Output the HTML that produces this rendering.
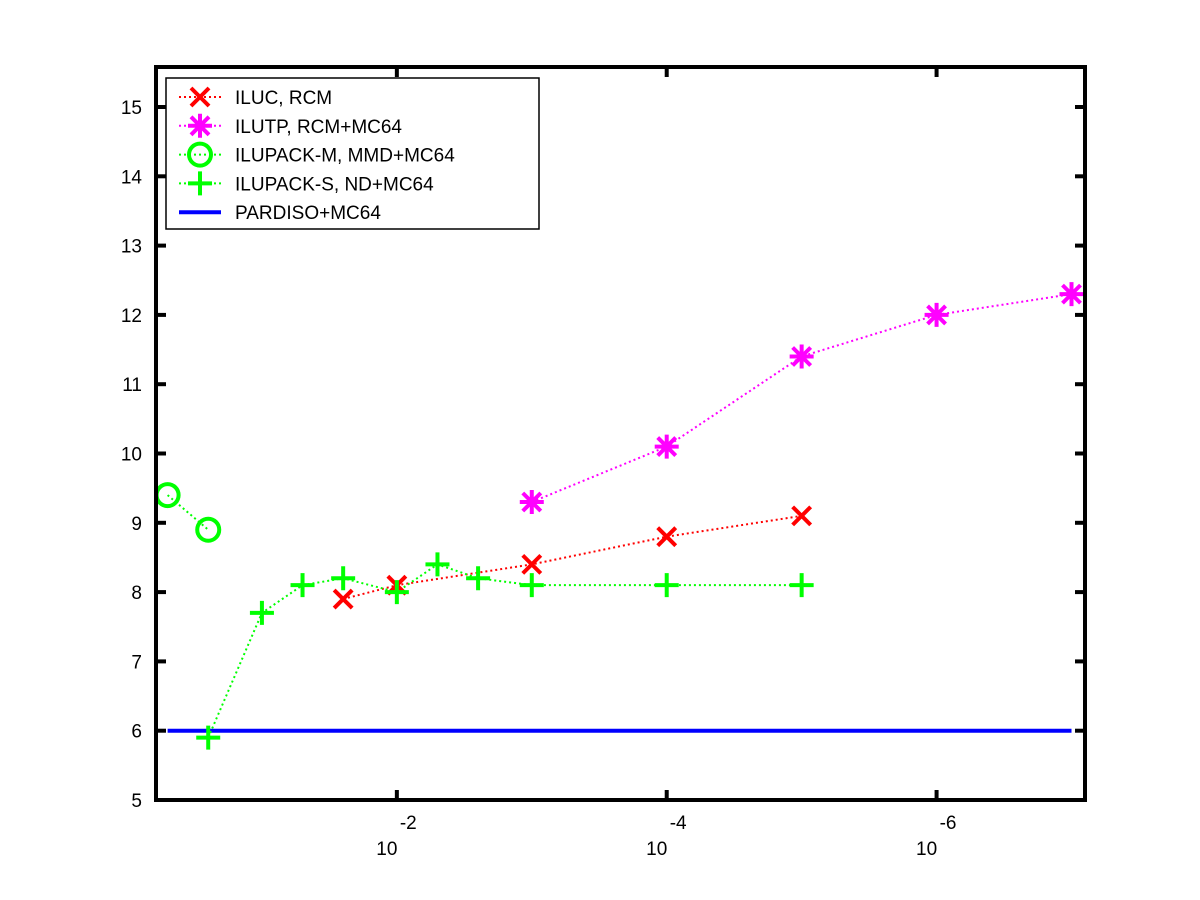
<!DOCTYPE html>
<html><head><meta charset="utf-8"><style>
body{margin:0;background:#fff;}
svg{display:block;font-family:"Liberation Sans",sans-serif;}
</style></head><body>
<svg id="chart" width="1200" height="900" viewBox="0 0 1200 900">
<rect x="0" y="0" width="1200" height="900" fill="#fff"/>
<g id="grid"></g>
<g id="series"></g>
<g id="axes"></g>
<g id="legend"></g>
</svg>
<script>
const NS='http://www.w3.org/2000/svg';
const ilucX=[0.025,0.01,0.001,1e-4,1e-5];
const ilucY=[7.9,8.1,8.4,8.8,9.1];
const ilutpX=[0.001,1e-4,1e-6,1e-7];
const ilutpY=[9.3,10.1,12.0,12.3];
const ilutpX2=[0.001,1e-4,1e-5,1e-6,1e-7];
const ilutpY2=[9.3,10.1,11.4,12.0,12.3];
const ilupMX=[0.5,0.25];
const ilupMY=[9.4,8.9];
const ilupSX=[0.25,0.1,0.05,0.025,0.01,0.005,0.0025,0.001,1e-4,1e-5];
const ilupSY=[5.9,7.7,8.1,8.2,8.0,8.4,8.2,8.1,8.1,8.1];
const pardisoX=[0.5,1e-7];
const pardisoY=[6,6];
const yTicks=[5,6,7,8,9,10,11,12,13,14,15];
const xTickExps=[-2,-4,-6];

const L=156,R=1085,T=67,B=800;
const eL=-0.215,eR=-7.1;
function sx(v){const e=Math.log10(v);return L+(e-eL)/(eR-eL)*(R-L);}
const y0=5,yPx=69.3;
function sy(v){return B-(v-y0)*yPx;}
function el(tag,attrs,parent){const e=document.createElementNS(NS,tag);for(const k in attrs)e.setAttribute(k,attrs[k]);parent.appendChild(e);return e;}
const axes=document.getElementById('axes'),series=document.getElementById('series'),legend=document.getElementById('legend');

// axes box
const box=el('rect',{x:L,y:T,width:R-L,height:B-T,fill:'none',stroke:'#000','stroke-width':4},axes);


yTicks.forEach(v=>{
  const y=sy(v);
  const t1=el('line',{x1:L,x2:L+10,y1:y,y2:y,stroke:'#000','stroke-width':4},axes);
  
  
  el('line',{x1:R-10,x2:R,y1:y,y2:y,stroke:'#000','stroke-width':4},axes);
  const tx=el('text',{x:142,y:y+7,'font-size':19,'text-anchor':'end'},axes);
  tx.textContent=v;
  
  
});
xTickExps.forEach(e=>{
  const x=sx(Math.pow(10,e));
  const t1=el('line',{x1:x,x2:x,y1:B-10,y2:B,stroke:'#000','stroke-width':4},axes);
  
  
  el('line',{x1:x,x2:x,y1:T,y2:T+10,stroke:'#000','stroke-width':4},axes);
  const g=el('text',{x:x-10,y:855,'font-size':19,'text-anchor':'middle'},axes);
  g.textContent='10';
  
  
  const s=el('text',{x:x+3,y:829,'font-size':19},axes);
  s.textContent=String(e).replace('-','-');
  
  
});

function line(xs,ys,color,name,dashed){
  const pts=xs.map((x,i)=>sx(x)+','+sy(ys[i])).join(' ');
  const p=el('polyline',{points:pts,fill:'none',stroke:color,'stroke-width':dashed?2:4,'stroke-dasharray':dashed?'2,3':'none'},series);
  
  
}
function marker(type,cx,cy,color,g){
  const sw=4,s=9;
  if(type==='x'){el('path',{d:`M${cx-s},${cy-s}L${cx+s},${cy+s}M${cx-s},${cy+s}L${cx+s},${cy-s}`,stroke:color,'stroke-width':sw},g);}
  else if(type==='*'){el('path',{d:`M${cx-s},${cy-s}L${cx+s},${cy+s}M${cx-s},${cy+s}L${cx+s},${cy-s}M${cx-12},${cy}L${cx+12},${cy}M${cx},${cy-12}L${cx},${cy+12}`,stroke:color,'stroke-width':sw},g);}
  else if(type==='o'){el('circle',{cx:cx,cy:cy,r:11,fill:'none',stroke:color,'stroke-width':sw},g);}
  else if(type==='+'){el('path',{d:`M${cx-12},${cy}L${cx+12},${cy}M${cx},${cy-12}L${cx},${cy+12}`,stroke:color,'stroke-width':sw},g);}
}
function markers(xs,ys,type,color,name){
  xs.forEach((x,i)=>{
    const g=el('g',{},series);
    
    
    marker(type,sx(x),sy(ys[i]),color,g);
  });
}
line(pardisoX,pardisoY,'#0000ff','pardiso-line',false);
line(ilucX,ilucY,'#ff0000','iluc-line',true);
line(ilutpX2,ilutpY2,'#ff00ff','ilutp-line',true);
line(ilupMX,ilupMY,'#00ff00','ilupack-m-line',true);
line(ilupSX,ilupSY,'#00ff00','ilupack-s-line',true);
markers(ilucX,ilucY,'x','#ff0000','iluc-point');
markers(ilutpX2,ilutpY2,'*','#ff00ff','ilutp-point');
markers(ilupMX,ilupMY,'o','#00ff00','ilupack-m-point');
markers(ilupSX,ilupSY,'+','#00ff00','ilupack-s-point');

// legend
const lb=el('rect',{x:166,y:78,width:373,height:151,fill:'#fff',stroke:'#000','stroke-width':1.5},legend);


const entries=[['ILUC, RCM','#ff0000','x'],['ILUTP, RCM+MC64','#ff00ff','*'],['ILUPACK-M, MMD+MC64','#00ff00','o'],['ILUPACK-S, ND+MC64','#00ff00','+'],['PARDISO+MC64','#0000ff','-']];
entries.forEach((en,i)=>{
  const y=97+i*28.8;
  const g=el('g',{},legend);
  
  
  if(en[2]==='-'){el('line',{x1:179,x2:221,y1:y,y2:y,stroke:en[1],'stroke-width':4},g);}
  else{el('line',{x1:179,x2:221,y1:y,y2:y,stroke:en[1],'stroke-width':2,'stroke-dasharray':'2,3'},g);marker(en[2],200,y,en[1],g);}
  const t=el('text',{x:235,y:y+7,'font-size':19},g);
  t.textContent=en[0];
});
</script>
</body></html>
